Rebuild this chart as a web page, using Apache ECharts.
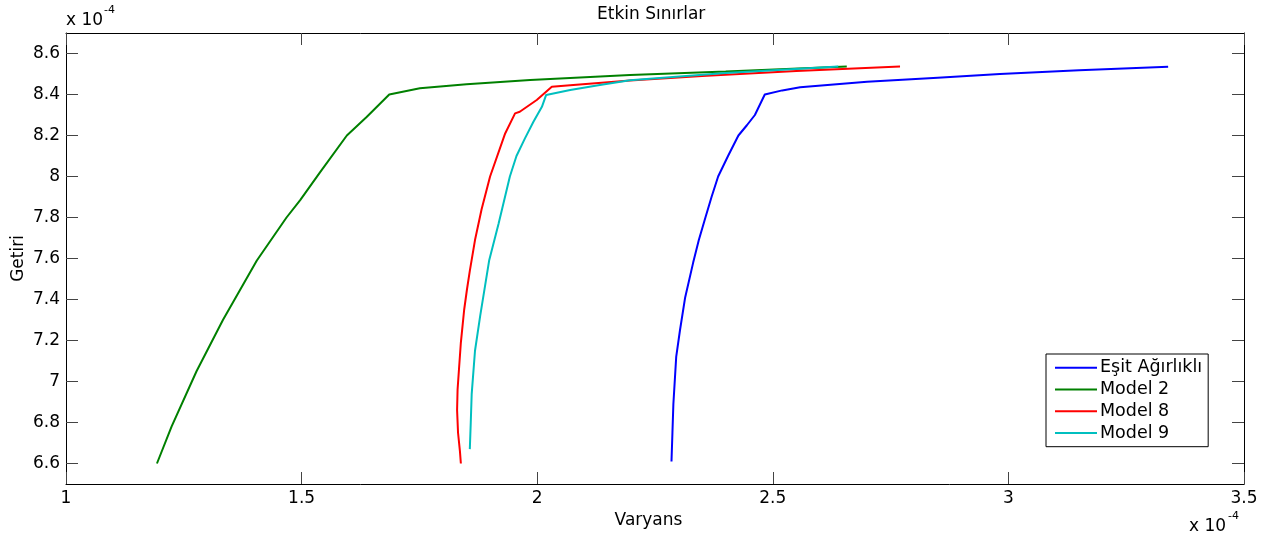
<!DOCTYPE html>
<html>
<head>
<meta charset="utf-8">
<script src="https://cdn.jsdelivr.net/npm/echarts@6/dist/echarts.min.js"></script>
<style>html,body{margin:0;padding:0;background:#fff}#c{width:1278px;height:541px}</style>
</head>
<body>
<div id="c"></div>
<script>
// Values in units of 1e-4 (variance on x, return on y)
const seriesNames = ["Eşit Ağırlıklı", "Model 2", "Model 8", "Model 9"];
const seriesColors = ["#0000ff", "#008000", "#ff0000", "#00bfbf"];

const esitAgirlikli = [[2.285,6.61],[2.287,6.75],[2.289,6.89],[2.295,7.12],[2.303,7.25],[2.314,7.41],[2.331,7.58],[2.343,7.69],[2.357,7.80],[2.370,7.90],[2.384,8.00],[2.405,8.10],[2.427,8.20],[2.445,8.25],[2.462,8.30],[2.483,8.40],[2.52,8.42],[2.558,8.435],[2.70,8.462],[2.85,8.482],[2.982,8.50],[3.15,8.518],[3.339,8.535]];
const model2 = [[1.193,6.60],[1.224,6.78],[1.277,7.05],[1.333,7.30],[1.405,7.59],[1.468,7.80],[1.497,7.885],[1.539,8.02],[1.596,8.20],[1.638,8.29],[1.686,8.40],[1.751,8.43],[1.85,8.45],[1.985,8.471],[2.197,8.495],[2.40,8.512],[2.657,8.536]];
const model8 = [[1.838,6.60],[1.836,6.66],[1.832,6.75],[1.830,6.86],[1.831,6.96],[1.834,7.06],[1.838,7.19],[1.845,7.35],[1.851,7.45],[1.857,7.54],[1.868,7.69],[1.882,7.84],[1.900,8.00],[1.932,8.21],[1.953,8.308],[1.963,8.316],[1.999,8.373],[2.031,8.438],[2.07,8.445],[2.197,8.468],[2.35,8.49],[2.55,8.515],[2.77,8.536]];
const model9 = [[1.857,6.67],[1.859,6.80],[1.861,6.94],[1.868,7.15],[1.879,7.32],[1.898,7.59],[1.918,7.77],[1.925,7.837],[1.942,8.00],[1.956,8.10],[1.974,8.186],[1.992,8.267],[2.01,8.34],[2.019,8.398],[2.07,8.422],[2.133,8.446],[2.197,8.47],[2.40,8.505],[2.639,8.536]];

const xTicks = [1, 1.5, 2, 2.5, 3, 3.5];
const yTicks = [6.6, 6.8, 7, 7.2, 7.4, 7.6, 7.8, 8, 8.2, 8.4, 8.6];

const FONT = "DejaVu Sans";
const allData = [esitAgirlikli, model2, model8, model9];
const fmt = v => String(+(+v).toFixed(2));

const tickStyle = { show: true, inside: true, length: 12, lineStyle: { color: '#444', width: 1 } };
const lineStyle = { show: true, lineStyle: { color: '#000', width: 1 } };

const chart = echarts.init(document.getElementById('c'), null, { renderer: 'canvas' });
chart.setOption({
  animation: false,
  backgroundColor: '#fff',
  textStyle: { fontFamily: FONT },
  title: {
    text: 'Etkin Sınırlar', left: 597, top: 6, padding: 0,
    textStyle: { fontFamily: FONT, fontSize: 17, fontWeight: 'normal', color: '#000' }
  },
  grid: { left: 66, right: 34, top: 33, bottom: 57, containLabel: false, outerBoundsMode: 'none' },
  legend: {
    orient: 'vertical', left: 1046, top: 354,
    data: seriesNames,
    icon: 'rect', itemWidth: 42, itemHeight: 2, itemGap: 0.5,
    padding: [3, 6, 3, 9],
    borderColor: '#000', borderWidth: 1, backgroundColor: '#fff',
    textStyle: { fontFamily: FONT, fontSize: 17.5, color: '#000', lineHeight: 21.3, padding: [0, 0, 0, -2] }
  },
  xAxis: [{
    type: 'value', min: 1, max: 3.5, interval: 0.5, position: 'bottom',
    name: 'Varyans', nameLocation: 'middle', nameGap: 28, nameMoveOverlap: false,
    nameTextStyle: { fontFamily: FONT, fontSize: 17, color: '#000', padding: [0, 13, 0, 0] },
    axisLine: lineStyle, axisTick: Object.assign({}, tickStyle, { customValues: xTicks }),
    axisLabel: { customValues: xTicks, formatter: fmt, fontFamily: FONT, fontSize: 17, color: '#000', margin: 6 },
    splitLine: { show: false }
  }, {
    type: 'value', min: 1, max: 3.5, interval: 0.5, position: 'top',
    axisLine: lineStyle, axisTick: Object.assign({}, tickStyle, { customValues: xTicks }),
    axisLabel: { show: false }, splitLine: { show: false }
  }],
  yAxis: [{
    type: 'value', min: 6.5, max: 8.7, position: 'left',
    name: 'Getiri', nameLocation: 'middle', nameGap: 39, nameRotate: 90, nameMoveOverlap: false,
    nameTextStyle: { fontFamily: FONT, fontSize: 17, color: '#000' },
    axisLine: lineStyle, axisTick: Object.assign({}, tickStyle, { customValues: yTicks }),
    axisLabel: { customValues: yTicks, formatter: fmt, fontFamily: FONT, fontSize: 17, color: '#000', margin: 6 },
    splitLine: { show: false }
  }, {
    type: 'value', min: 6.5, max: 8.7, position: 'right',
    axisLine: lineStyle, axisTick: Object.assign({}, tickStyle, { customValues: yTicks }),
    axisLabel: { show: false }, splitLine: { show: false }
  }],
  graphic: [
    { type: 'text', left: 66, top: 12, style: { text: 'x 10', font: '17px "DejaVu Sans"', fill: '#000' } },
    { type: 'text', left: 104, top: 5, style: { text: '-4', font: '11px "DejaVu Sans"', fill: '#000' } },
    { type: 'text', left: 1189, top: 518, style: { text: 'x 10', font: '17px "DejaVu Sans"', fill: '#000' } },
    { type: 'text', left: 1228, top: 511, style: { text: '-4', font: '11px "DejaVu Sans"', fill: '#000' } }
  ],
  series: seriesNames.map((n, i) => ({
    name: n, type: 'line', data: allData[i], xAxisIndex: 0, yAxisIndex: 0,
    showSymbol: false, symbol: 'none', smooth: false,
    color: seriesColors[i],
    lineStyle: { color: seriesColors[i], width: 2 },
    emphasis: { disabled: true }
  }))
});
</script>
</body>
</html>
